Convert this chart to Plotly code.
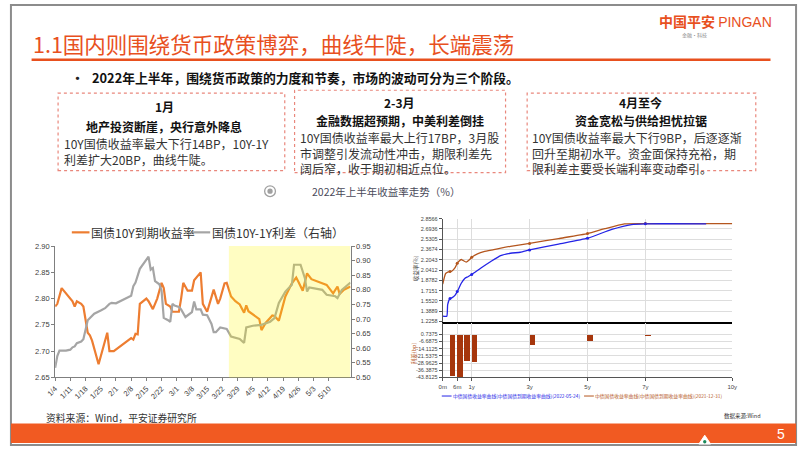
import plotly.graph_objects as go

W, H = 802, 451
CJK = "Noto Sans CJK SC"
SANS = "Liberation Sans"

# ---------------- left chart data ----------------
yield_dates = ["2022-01-04", "2022-01-05", "2022-01-07", "2022-01-08", "2022-01-10", "2022-01-11",
               "2022-01-12", "2022-01-13", "2022-01-14", "2022-01-16", "2022-01-17", "2022-01-19",
               "2022-01-20", "2022-01-21", "2022-01-24", "2022-01-28", "2022-01-29", "2022-01-31",
               "2022-02-08", "2022-02-09", "2022-02-10", "2022-02-11", "2022-02-12", "2022-02-15",
               "2022-02-16", "2022-02-18", "2022-02-20", "2022-02-22", "2022-02-23", "2022-02-24",
               "2022-02-26", "2022-02-27", "2022-03-02", "2022-03-03", "2022-03-04", "2022-03-06",
               "2022-03-08", "2022-03-09", "2022-03-12", "2022-03-13", "2022-03-15", "2022-03-18",
               "2022-03-20", "2022-03-21", "2022-03-23", "2022-03-24", "2022-03-26", "2022-03-28",
               "2022-03-30", "2022-04-01", "2022-04-02", "2022-04-03", "2022-04-08", "2022-04-09",
               "2022-04-11", "2022-04-14", "2022-04-15", "2022-04-17", "2022-04-20", "2022-04-23",
               "2022-04-25", "2022-04-26", "2022-04-28", "2022-04-30", "2022-05-02", "2022-05-09",
               "2022-05-12", "2022-05-14", "2022-05-15", "2022-05-17", "2022-05-20"]
yield_10y = [2.785, 2.79, 2.82, 2.815, 2.805, 2.80,
             2.795, 2.785, 2.795, 2.79, 2.785, 2.735,
             2.73, 2.72, 2.675, 2.735, 2.70, 2.70,
             2.725, 2.722, 2.733, 2.732, 2.79, 2.80,
             2.795, 2.78, 2.80, 2.83, 2.82, 2.79,
             2.785, 2.775, 2.775, 2.80, 2.83, 2.815,
             2.815, 2.835, 2.85, 2.79, 2.775, 2.817,
             2.79, 2.80, 2.829, 2.83, 2.804, 2.795,
             2.789, 2.773, 2.787, 2.776, 2.761, 2.74,
             2.754, 2.768, 2.767, 2.758, 2.804, 2.829,
             2.84, 2.832, 2.815, 2.848, 2.837, 2.826,
             2.81, 2.823, 2.809, 2.817, 2.823]

spread_dates = ["2022-01-04", "2022-01-05", "2022-01-06", "2022-01-09", "2022-01-11", "2022-01-12",
                "2022-01-13", "2022-01-14", "2022-01-16", "2022-01-17", "2022-01-19", "2022-01-21",
                "2022-01-22", "2022-01-25", "2022-01-27", "2022-01-29", "2022-01-30", "2022-02-01",
                "2022-02-08", "2022-02-09", "2022-02-10", "2022-02-12", "2022-02-14", "2022-02-16",
                "2022-02-17", "2022-02-18", "2022-02-19", "2022-02-21", "2022-02-22", "2022-02-23",
                "2022-02-25", "2022-02-26", "2022-02-27", "2022-02-28", "2022-03-02", "2022-03-03",
                "2022-03-05", "2022-03-07", "2022-03-08", "2022-03-09", "2022-03-10", "2022-03-12",
                "2022-03-13", "2022-03-15", "2022-03-17", "2022-03-18", "2022-03-19", "2022-03-21",
                "2022-03-24", "2022-03-26", "2022-03-30", "2022-04-01", "2022-04-02", "2022-04-05",
                "2022-04-09", "2022-04-13", "2022-04-15", "2022-04-17", "2022-04-20", "2022-04-23",
                "2022-04-24", "2022-04-27", "2022-04-28", "2022-04-29", "2022-04-30", "2022-05-01",
                "2022-05-07", "2022-05-09", "2022-05-13", "2022-05-14", "2022-05-16", "2022-05-20"]
spread_10y1y = [0.533, 0.573, 0.592, 0.592, 0.595, 0.603,
                0.606, 0.617, 0.623, 0.631, 0.696, 0.713,
                0.718, 0.729, 0.737, 0.752, 0.755, 0.754,
                0.78, 0.813, 0.825, 0.872, 0.892, 0.914,
                0.869, 0.875, 0.83, 0.819, 0.797, 0.704,
                0.696, 0.69, 0.752, 0.746, 0.741, 0.733,
                0.707, 0.718, 0.724, 0.76, 0.733, 0.733,
                0.715, 0.713, 0.683, 0.655, 0.655, 0.671,
                0.666, 0.64, 0.632, 0.618, 0.671, 0.677,
                0.68, 0.691, 0.703, 0.755, 0.794, 0.817,
                0.886, 0.886, 0.865, 0.84, 0.794, 0.808,
                0.80, 0.783, 0.778, 0.772, 0.80, 0.825]

tick_dates = ["2022-01-04", "2022-01-11", "2022-01-18", "2022-01-25", "2022-02-01", "2022-02-08",
              "2022-02-15", "2022-02-22", "2022-03-01", "2022-03-08", "2022-03-15", "2022-03-22",
              "2022-03-29", "2022-04-05", "2022-04-12", "2022-04-19", "2022-04-26", "2022-05-03",
              "2022-05-10"]
tick_labels = ["1/4", "1/11", "1/18", "1/25", "2/1", "2/8", "2/15", "2/22", "3/1", "3/8", "3/15",
               "3/22", "3/29", "4/5", "4/12", "4/19", "4/26", "5/3", "5/10"]
left_ticks = [2.65, 2.70, 2.75, 2.80, 2.85, 2.90]
right_ticks = [0.50, 0.55, 0.60, 0.65, 0.70, 0.75, 0.80, 0.85, 0.90, 0.95]
date_range = ["2022-01-04", "2022-05-20"]
shade_range = ["2022-03-25", "2022-05-20"]
name_yield = "国债10Y到期收益率"
name_spread = "国债10Y-1Y利差（右轴）"

# ---------------- right chart data (yield curves) ----------------
tenor_0524 = [0.0, 0.14, 0.17, 0.25, 0.31, 0.42, 0.5, 0.64, 0.76, 0.87, 1.0, 1.32, 1.66, 2.0,
              2.34, 2.68, 3.0, 4.0, 5.0, 5.84, 6.52, 7.0, 9.1]
curve_0524 = [1.31, 1.31, 1.495, 1.59, 1.60, 1.64, 1.70, 1.832, 1.909, 1.936, 1.971, 2.075, 2.178,
              2.271, 2.308, 2.324, 2.36, 2.453, 2.546, 2.686, 2.763, 2.774, 2.774]
tenor_1231 = [0.0, 0.1, 0.19, 0.25, 0.31, 0.42, 0.5, 0.55, 0.64, 0.70, 0.81, 0.93, 1.0, 1.2, 1.42,
              1.76, 2.34, 3.0, 4.0, 5.0, 5.6, 6.28, 7.0, 10.0]
curve_1231 = [1.82, 1.987, 2.013, 2.018, 2.023, 2.075, 2.15, 2.178, 2.209, 2.194, 2.168, 2.209,
              2.246, 2.297, 2.333, 2.364, 2.417, 2.464, 2.541, 2.619, 2.697, 2.774, 2.779, 2.779]
marker_tenors = [0.25, 0.5, 1.0, 3.0, 5.0, 7.0]
bar_tenors = [0.25, 0.5, 0.75, 1.0, 3.0, 5.0, 7.0]
bar_spread_bp = [-42.1, -44.5, -27.0, -27.4, -10.7, -5.7, -0.8]
curve_ticks = [2.8566, 2.6936, 2.5305, 2.3674, 2.2043, 2.0412, 1.8782, 1.7151, 1.5520, 1.3889, 1.2258]
spread_ticks = [0.7375, -6.6875, -14.1125, -21.5375, -28.9625, -36.3875, -43.8125]
tenor_tickvals = [0, 0.5, 1, 3, 5, 7, 10]
tenor_ticktext = ["0m", "6m", "1y", "3y", "5y", "7y", "10y"]
name_0524 = "中债国债收益率曲线(中债国债到期收益率曲线)(2022-05-24)"
name_1231 = "中债国债收益率曲线(中债国债到期收益率曲线)(2021-12-31)"


def X(p):
    return p / W


def Y(p):
    return 1 - p / H


ORANGE = "#ED7D31"
GRAY = "#A5A5A5"
BLUE = "#2424E6"
BROWN = "#B4561E"

fig = go.Figure()

# ---- left chart traces ----
fig.add_trace(go.Scatter(x=yield_dates, y=yield_10y, name=name_yield, mode="lines", showlegend=False,
                         line=dict(color=ORANGE, width=2.2), xaxis="x", yaxis="y"))
fig.add_trace(go.Scatter(x=spread_dates, y=spread_10y1y, name=name_spread, mode="lines", showlegend=False,
                         line=dict(color=GRAY, width=2.2), xaxis="x", yaxis="y2"))

# ---- right chart traces ----
fig.add_trace(go.Scatter(x=tenor_1231, y=curve_1231, name=name_1231, mode="lines", showlegend=False,
                         line=dict(color=BROWN, width=1.3, shape="spline", smoothing=0.5),
                         xaxis="x3", yaxis="y3"))
fig.add_trace(go.Scatter(x=tenor_0524, y=curve_0524, name=name_0524, mode="lines", showlegend=False,
                         line=dict(color=BLUE, width=1.3, shape="spline", smoothing=0.5),
                         xaxis="x3", yaxis="y3"))
lk_b = dict(zip(tenor_0524, curve_0524))
lk_r = dict(zip(tenor_1231, curve_1231))
fig.add_trace(go.Scatter(x=marker_tenors, y=[lk_r[t] for t in marker_tenors], mode="markers",
                         showlegend=False, marker=dict(color=BROWN, size=3),
                         xaxis="x3", yaxis="y3"))
fig.add_trace(go.Scatter(x=marker_tenors, y=[lk_b[t] for t in marker_tenors], mode="markers",
                         showlegend=False, marker=dict(color=BLUE, size=3),
                         xaxis="x3", yaxis="y3"))
fig.add_trace(go.Bar(x=bar_tenors, y=bar_spread_bp, width=0.19, offset=0, showlegend=False,
                     marker=dict(color="#A6360C", line=dict(width=0)), xaxis="x4", yaxis="y4"))

tick_font = dict(family=SANS, size=7.5, color="#404040")
wind_font = dict(family=SANS, size=5.5, color="#444444")

fig.update_layout(
    width=W, height=H, margin=dict(l=0, r=0, t=0, b=0),
    paper_bgcolor="white", plot_bgcolor="white",
    showlegend=False,
    xaxis=dict(domain=[X(46), X(347)], anchor="y", type="date", range=date_range,
               tickvals=tick_dates, ticktext=tick_labels, tickangle=-45, tickfont=tick_font,
               showgrid=False, showline=True, linecolor="#7f7f7f", linewidth=1,
               ticks="outside", ticklen=3, tickcolor="#7f7f7f", zeroline=False),
    yaxis=dict(domain=[Y(381), Y(247)], anchor="x", range=[2.65, 2.90], tickvals=left_ticks,
               tickformat=".2f", tickfont=tick_font, showgrid=False, showline=True,
               linecolor="#7f7f7f", linewidth=1, ticks="outside", ticklen=3, tickcolor="#7f7f7f",
               zeroline=False),
    yaxis2=dict(overlaying="y", side="right", anchor="x", range=[0.50, 0.95], tickvals=right_ticks,
                tickformat=".2f", tickfont=tick_font, showgrid=False, showline=True,
                linecolor="#7f7f7f", linewidth=1, ticks="outside", ticklen=3, tickcolor="#7f7f7f",
                zeroline=False),
    xaxis3=dict(domain=[X(441), X(736)], anchor="y3", range=[0, 10],
                tickvals=[0.5, 1, 3, 5, 7, 10], showticklabels=False, showgrid=True,
                gridcolor="#DDDDDD", gridwidth=1, showline=True, linecolor="#000000", linewidth=2.5,
                zeroline=False),
    yaxis3=dict(domain=[Y(324), Y(219)], anchor="x3", range=[1.2258, 2.8566],
                tickvals=curve_ticks, ticktext=["%.4f" % v for v in curve_ticks], tickfont=wind_font,
                showgrid=True, gridcolor="#DDDDDD", showline=True, linecolor="#555555", linewidth=1,
                ticks="outside", ticklen=3, tickcolor="#555555", zeroline=False),
    xaxis4=dict(domain=[X(441), X(736)], anchor="y4", range=[0, 10],
                tickvals=tenor_tickvals, ticktext=tenor_ticktext,
                tickfont=dict(family=SANS, size=6, color="#444444"),
                showgrid=True, gridcolor="#DDDDDD", showline=True, linecolor="#555555", linewidth=1,
                ticks="outside", ticklen=3, tickcolor="#555555", zeroline=False),
    yaxis4=dict(domain=[Y(381), Y(326)], anchor="x4", range=[-43.8125, 11.87],
                tickvals=spread_ticks, ticktext=["%.4f" % v for v in spread_ticks], tickfont=wind_font,
                showgrid=True, gridcolor="#DDDDDD", showline=True, linecolor="#555555", linewidth=1,
                ticks="outside", ticklen=3, tickcolor="#555555", zeroline=False),
    bargap=0,
)

shapes = []
# shaded phase on the left chart (translucent overlay)
shapes.append(dict(type="rect", xref="x", yref="y domain", x0=shade_range[0], x1=shade_range[1],
                   y0=0, y1=1, fillcolor="rgba(255,246,0,0.24)", line=dict(width=0), layer="above"))
# slide frame
shapes.append(dict(type="rect", xref="paper", yref="paper", x0=0.0012, x1=0.9988, y0=0.002, y1=0.998,
                   line=dict(color="#8C8C8C", width=2), fillcolor="rgba(0,0,0,0)"))
# title underline
shapes.append(dict(type="line", xref="paper", yref="paper", x0=X(22), x1=X(775), y0=Y(57), y1=Y(57),
                   line=dict(color="#E8501E", width=2.5)))
# bottom bar
shapes.append(dict(type="rect", xref="paper", yref="paper", x0=X(1), x1=X(801), y0=Y(448), y1=Y(428),
                   fillcolor="#F15A22", line=dict(width=0)))
# small logo in bottom bar
shapes.append(dict(type="path", xref="paper", yref="paper",
                   path="M %f %f L %f %f L %f %f Z" % (X(702), Y(449), X(708), Y(440), X(714), Y(449)),
                   fillcolor="white", line=dict(color="white", width=1)))
shapes.append(dict(type="circle", xref="paper", yref="paper", x0=X(706.3), x1=X(709.7),
                   y0=Y(448.5), y1=Y(445), fillcolor="#1A8A5A", line=dict(width=0)))
# dotted boxes
for (x0, y0, x1, y1) in [(49, 91, 280, 170), (290, 88, 505, 172), (527, 91, 760, 170)]:
    shapes.append(dict(type="rect", xref="paper", yref="paper", x0=X(x0), x1=X(x1), y0=Y(y1), y1=Y(y0),
                       line=dict(color="#E9877C", width=1.2, dash="dot"), fillcolor="rgba(0,0,0,0)"))
# subtitle icon
shapes.append(dict(type="circle", xref="paper", yref="paper", x0=X(259.5), x1=X(270.5), y0=Y(196.5),
                   y1=Y(185.5), line=dict(color="#A0A0A0", width=1.3), fillcolor="white"))
shapes.append(dict(type="circle", xref="paper", yref="paper", x0=X(262.3), x1=X(267.7), y0=Y(193.7),
                   y1=Y(188.3), line=dict(width=0), fillcolor="#A0A0A0"))
# legend key lines (left chart)
for (x0, x1, c) in [(63, 81, ORANGE), (185, 204, GRAY)]:
    shapes.append(dict(type="line", xref="paper", yref="paper", x0=X(x0), x1=X(x1), y0=Y(233), y1=Y(233),
                       line=dict(color=c, width=2.2)))
# legend key lines (right chart)
for (x0, x1, c) in [(440, 450, BLUE), (585, 595, BROWN)]:
    shapes.append(dict(type="line", xref="paper", yref="paper", x0=X(x0), x1=X(x1), y0=Y(400), y1=Y(400),
                       line=dict(color=c, width=1)))
fig.update_layout(shapes=shapes)

ann = []


def text(x, y, s, size, color="#222222", family=CJK, xanchor="left", angle=0, align="left"):
    ann.append(dict(x=X(x), y=Y(y), xref="paper", yref="paper", text=s, showarrow=False,
                    xanchor=xanchor, yanchor="middle", textangle=angle, align=align,
                    font=dict(family=family, size=size, color=color), borderpad=0))


text(22, 40, "1.1国内则围绕货币政策博弈，曲线牛陡，长端震荡", 21.5, "#E8501E")
text(660, 17, "<b>中国平安</b> <span style='font-family:Liberation Sans'>PINGAN</span>", 14, "#E8501E")
text(684, 32, "金融·科技", 5, "#888888")
text(61, 75, "<b>•</b>", 13, "#222222")
text(83, 75, "<b>2022年上半年，围绕货币政策的力度和节奏，市场的波动可分为三个阶段。</b>", 12.8, "#111111")

# box 1
text(157, 105, "<b>1月</b>", 12, "#111111", xanchor="center")
text(157, 125, "<b>地产投资断崖，央行意外降息</b>", 12, "#111111", xanchor="center")
text(54, 151, "10Y国债收益率最大下行14BP，10Y-1Y<br>利差扩大20BP，曲线牛陡。", 12, "#333333")
# box 2
text(397, 100, "<b>2-3月</b>", 12, "#111111", xanchor="center")
text(397, 119, "<b>金融数据超预期，中美利差倒挂</b>", 12, "#111111", xanchor="center")
text(295, 152, "10Y国债收益率最大上行17BP，3月股<br>市调整引发流动性冲击，期限利差先<br>阔后窄，收于期初相近点位。",
     12, "#333333")
# box 3
text(643, 100, "<b>4月至今</b>", 12, "#111111", xanchor="center")
text(643, 119, "<b>资金宽松与供给担忧拉锯</b>", 12, "#111111", xanchor="center")
text(531, 152, "10Y国债收益率最大下行9BP，后逐逐渐<br>回升至期初水平。资金面保持充裕，期<br>限利差主要受长端利率变动牵引。",
     12, "#333333")

text(307, 191, "2022年上半年收益率走势（%）", 10.5, "#4A4A5A")
text(82, 233, name_yield, 12, "#333333")
text(205, 233, name_spread, 12, "#333333")
text(36, 422, "资料来源：Wind，平安证券研究所", 9.8, "#333333")
text(786, 439, "5", 14, "white", family="Liberation Sans", xanchor="center")

# wind chart labels
text(413, 270, "收益率(%)", 5.5, "#333333", angle=-90, xanchor="center")
text(412, 356, "利差(bp)", 5.5, BROWN, angle=-90, xanchor="center")
text(450, 400, name_0524, 4.8, BLUE)
text(595, 400, name_1231, 4.8, BROWN)
text(727, 420, "数据来源:Wind", 5.5, "#333333")

fig.update_layout(annotations=ann)
fig.write_html("out.html", config={"displayModeBar": False, "staticPlot": True},
               post_script="document.body.style.margin='0px';document.body.style.overflow='hidden';")
